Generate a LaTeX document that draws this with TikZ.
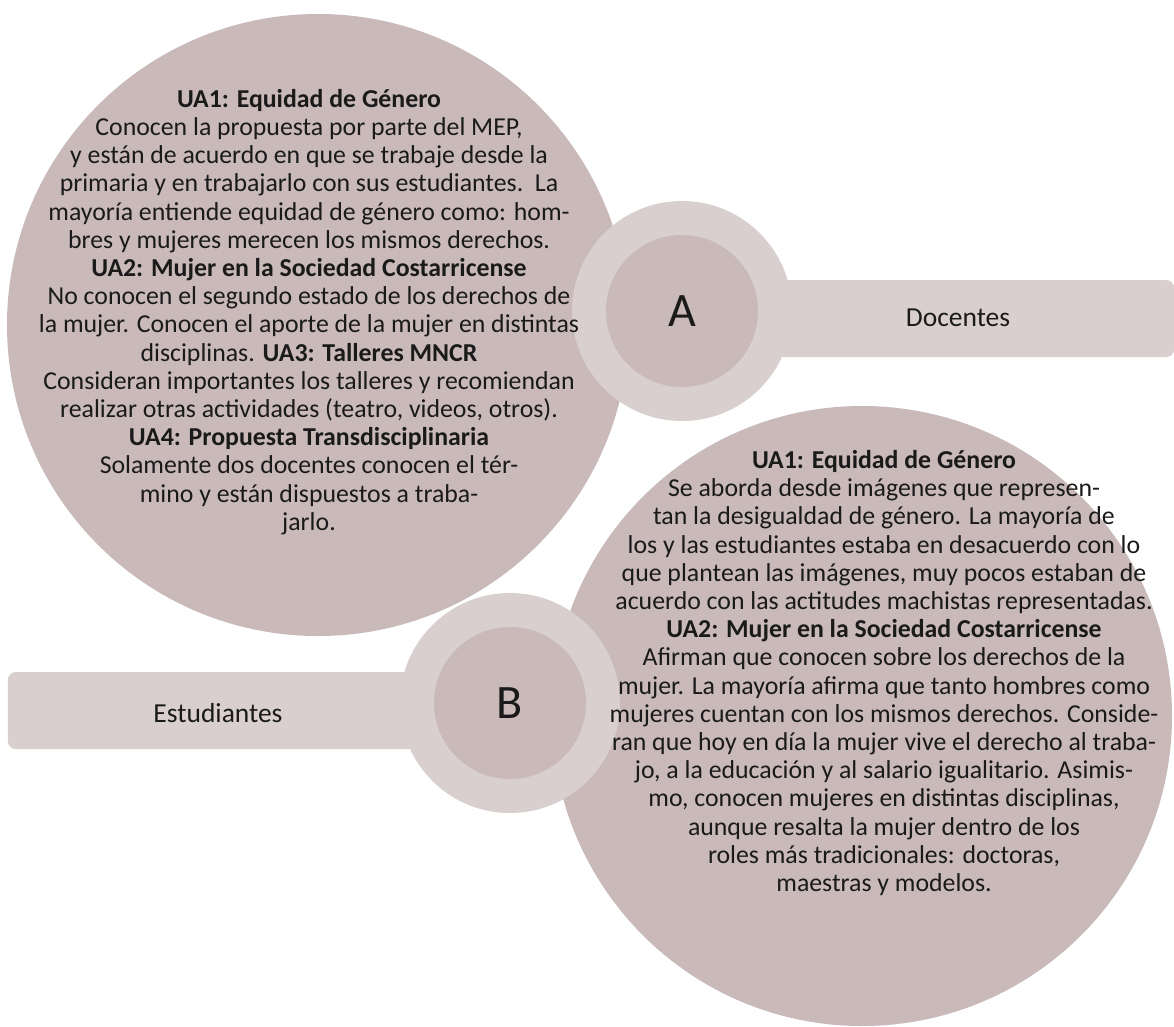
\documentclass[tikz,border=0pt]{standalone}
\usepackage{fontspec}
\setmainfont{Carlito}
\definecolor{bigc}{HTML}{C9B9B9}
\definecolor{lightc}{HTML}{D9CFCF}
\definecolor{ink}{HTML}{1A1A1A}
\tikzset{
  bigcirc/.style={circle, fill=bigc, draw=none, inner sep=0pt},
  ringout/.style={circle, fill=lightc, draw=none, inner sep=0pt, minimum size=220pt},
  ringin/.style={circle, fill=bigc, draw=none, inner sep=0pt, minimum size=152pt, text=ink, font=\fontsize{48}{54}\selectfont},
  barbox/.style={rectangle, rounded corners=8pt, fill=lightc, draw=none, inner sep=0pt, minimum height=77pt},
  bartext/.style={text=ink, inner sep=0pt, font=\fontsize{27.5}{32}\selectfont},
  bodytext/.style={text=ink, inner sep=0pt, align=center, font=\fontsize{25.8}{28.2}\selectfont}
}
\begin{document}
\begin{tikzpicture}[x=1pt,y=-1pt]
\useasboundingbox[fill=white] (0,0) rectangle (1174,1026);
% big circles
\node[bigcirc, minimum size=622pt] (circA) at (318,325) {};
\node[bigcirc, minimum size=620pt] (circB) at (862,716) {};
% bars
\node[barbox, minimum width=492pt, anchor=west] (barA) at (682,318.5) {};
\node[barbox, minimum width=502pt, anchor=east] (barB) at (510,710.5) {};
% rings
\node[ringout] (ringA) at (682,311) {};
\node[ringin] (letA) at (ringA.center) {A};
\node[ringout] (ringB) at (510,703) {};
\node[ringin] (letB) at (ringB.center) {B};
% bar labels
\node[bartext] (docentes) at (958,318) {Docentes};
\node[bartext] (estudiantes) at (218,713) {Estudiantes};
% body texts
\node[bodytext] (textA) at (309,312) {%
\textbf{UA1: Equidad de Género}\\
Conocen la propuesta por parte del MEP,\\
y están de acuerdo en que se trabaje desde la\\
primaria y en trabajarlo con sus estudiantes.\ \ La\\
mayoría entiende equidad de género como: hom-\\
bres y mujeres merecen los mismos derechos.\\
\textbf{UA2: Mujer en la Sociedad Costarricense}\\
No conocen el segundo estado de los derechos de\\
la mujer. Conocen el aporte de la mujer en distintas\\
disciplinas. \textbf{UA3: Talleres MNCR}\\
Consideran importantes los talleres y recomiendan\\
realizar otras actividades (teatro, videos, otros).\\
\textbf{UA4: Propuesta Transdisciplinaria}\\
Solamente dos docentes conocen el tér-\\
mino y están dispuestos a traba-\\
jarlo.};
\node[bodytext] (textB) at (884,673) {%
\textbf{UA1: Equidad de Género}\\
Se aborda desde imágenes que represen-\\
tan la desigualdad de género. La mayoría de\\
los y las estudiantes estaba en desacuerdo con lo\\
que plantean las imágenes, muy pocos estaban de\\
acuerdo con las actitudes machistas representadas.\\
\textbf{UA2: Mujer en la Sociedad Costarricense}\\
Afirman que conocen sobre los derechos de la\\
mujer. La mayoría afirma que tanto hombres como\\
mujeres cuentan con los mismos derechos. Conside-\\
ran que hoy en día la mujer vive el derecho al traba-\\
jo, a la educación y al salario igualitario. Asimis-\\
mo, conocen mujeres en distintas disciplinas,\\
aunque resalta la mujer dentro de los\\
roles más tradicionales: doctoras,\\
maestras y modelos.};
\end{tikzpicture}
\end{document}
